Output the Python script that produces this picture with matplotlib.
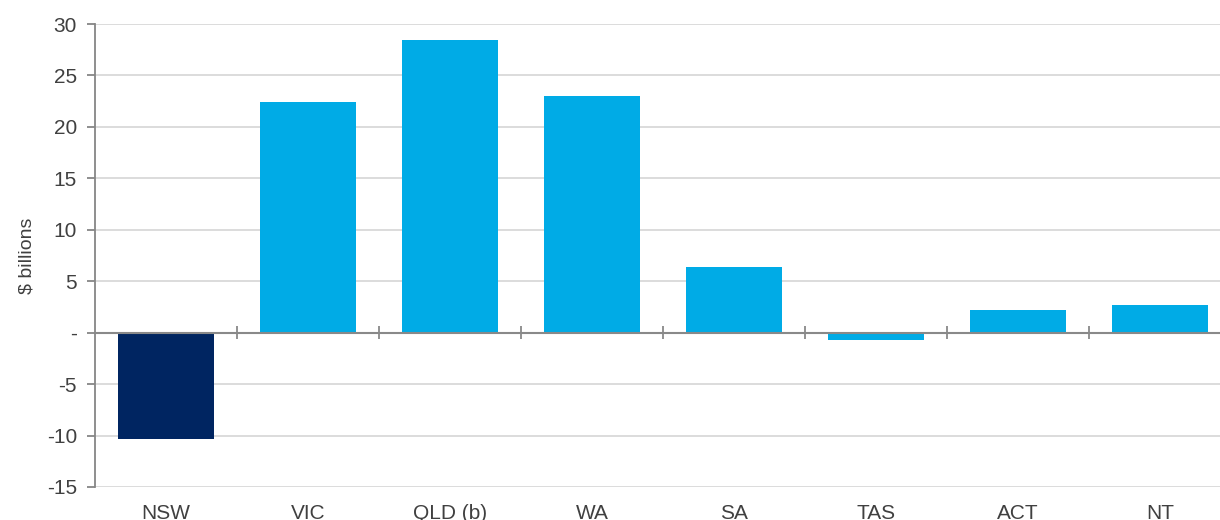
import matplotlib
matplotlib.use("Agg")
import matplotlib.pyplot as plt
import numpy as np
from matplotlib.ticker import FuncFormatter, MultipleLocator

categories = ["NSW", "VIC", "QLD (b)", "WA", "SA", "TAS", "ACT", "NT"]
values = [-10.3, 22.4, 28.45, 23.0, 6.35, -0.75, 2.2, 2.65]
colors = ["#002561", "#00ABE6", "#00ABE6", "#00ABE6", "#00ABE6", "#00ABE6", "#00ABE6", "#00ABE6"]

plt.rcParams['font.family'] = ['Liberation Sans', 'DejaVu Sans']

fig = plt.figure(figsize=(12.2, 5.2), dpi=100)
ax = fig.add_axes([95/1220, 1 - 487/520, 1136/1220, 463/520])

x = np.arange(len(categories))
ax.bar(x, values, width=0.67, color=colors, zorder=3)

ax.set_xlim(-0.5, len(categories) - 0.5)
ax.set_ylim(-15, 30)
ax.yaxis.set_major_locator(MultipleLocator(5))
ax.yaxis.set_major_formatter(FuncFormatter(lambda v, p: "-" if abs(v) < 1e-9 else f"{v:.0f}"))
ax.grid(axis='y', color='#d9d9d9', lw=1.3, zorder=0)
ax.set_axisbelow(True)

for s in ['top', 'right', 'bottom']:
    ax.spines[s].set_visible(False)
ax.spines['left'].set_color('#868686')
ax.spines['left'].set_linewidth(1.3)

# zero axis line with category separator ticks
ax.axhline(0, color='#898989', lw=1.5, zorder=4)
bounds = np.arange(1, len(categories)) - 0.5
ax.vlines(bounds, -0.6, 0.6, color='#898989', lw=1.3, zorder=4)

ax.set_xticks(x)
ax.set_xticklabels(categories)
ax.tick_params(axis='x', length=0, pad=12, labelsize=15, labelcolor='#404040')
ax.tick_params(axis='y', length=6, width=1.3, color='#868686', labelsize=15, labelcolor='#404040', pad=7)

ax.set_ylabel("$ billions", fontsize=14, color='#404040', labelpad=8)

fig.savefig("out.png", dpi=100)
